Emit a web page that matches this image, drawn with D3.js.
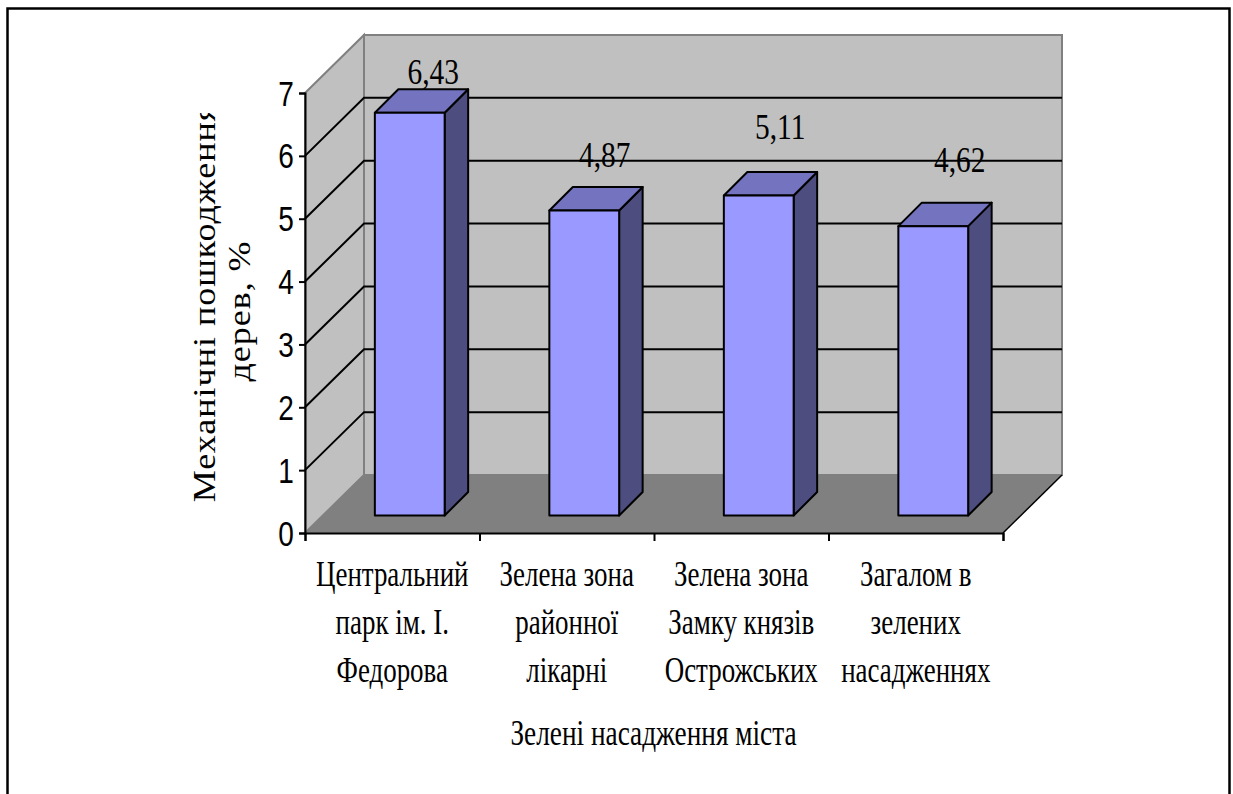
<!DOCTYPE html>
<html>
<head>
<meta charset="utf-8">
<script src="https://cdn.jsdelivr.net/npm/d3@7/dist/d3.min.js"></script>
<style>
html, body { margin: 0; padding: 0; background: #fff; }
svg { display: block; }
</style>
</head>
<body>
<svg id="chart" width="1233" height="794"></svg>
<script>
// Mechanical damage of trees in the town's green areas, %
const categories = [
  ["Центральний", "парк ім. І.", "Федорова"],
  ["Зелена зона", "районної", "лікарні"],
  ["Зелена зона", "Замку князів", "Острожських"],
  ["Загалом в", "зелених", "насадженнях"]
];
const values = [6.43, 4.87, 5.11, 4.62];
const valueLabels = ["6,43", "4,87", "5,11", "4,62"];
const yTicks = [0, 1, 2, 3, 4, 5, 6, 7];
const xTitle = "Зелені насадження міста";
const yTitleLines = ["Механічні пошкодження", "дерев, %"];

// Hand-placed data labels: lift above each column's top and sideways nudge, px
const labelLift = [5, 20, 33, 31];
const labelNudge = [0, -3, -2, 3];

const svg = d3.select("#chart");
const serif = "'Liberation Serif', serif";
const sans = "'Liberation Sans', sans-serif";

// Oblique projection: the floor runs back by (wallDX, -wallDY)
const plotLeft = 305, plotRight = 1003, plotBottom = 533, plotTop = 93;
const wallDX = 59, wallDY = 58;
const barShift = 17.5, barDepth = 23.5;

const x = d3.scaleBand().domain(d3.range(categories.length)).range([plotLeft, plotRight])
  .paddingInner(0.6).paddingOuter(0.3);
const y = d3.scaleLinear().domain([0, 7]).range([plotBottom, plotTop]);
// Columns stand part-way back on the floor, so their scale is a touch shorter
const barY = d3.scaleLinear().domain([0, 7]).range([plotBottom - barShift, plotBottom - barShift - 438.4]);
const edges = d3.scaleLinear().domain([0, categories.length]).range([plotLeft, plotRight]);

const poly = pts => pts.map(p => p.join(",")).join(" ");

// Frame
svg.append("path")
  .attr("d", "M7.5,794V8.5H1229.5V794")
  .attr("fill", "none").attr("stroke", "#000").attr("stroke-width", 2.5);

// Walls and floor
const walls = svg.append("g");
walls.append("polygon")
  .attr("points", poly([[plotLeft + wallDX, y(7) - wallDY], [plotRight + wallDX, y(7) - wallDY], [plotRight + wallDX, plotBottom - wallDY], [plotLeft + wallDX, plotBottom - wallDY]]))
  .attr("fill", "#c0c0c0").attr("stroke", "#808080").attr("stroke-width", 2);
walls.append("polygon")
  .attr("points", poly([[plotLeft, y(7)], [plotLeft + wallDX, y(7) - wallDY], [plotLeft + wallDX, plotBottom - wallDY], [plotLeft, plotBottom]]))
  .attr("fill", "#c0c0c0").attr("stroke", "#808080").attr("stroke-width", 2);
walls.append("polygon")
  .attr("points", poly([[plotLeft, plotBottom], [plotRight, plotBottom], [plotRight + wallDX, plotBottom - wallDY], [plotLeft + wallDX, plotBottom - wallDY]]))
  .attr("fill", "#808080");
walls.append("line")
  .attr("x1", plotRight).attr("y1", plotBottom).attr("x2", plotRight + wallDX).attr("y2", plotBottom - wallDY)
  .attr("stroke", "#000").attr("stroke-width", 1.5);

// Gridlines run along the side wall and across the back wall
const grid = svg.append("g").attr("stroke", "#000").attr("stroke-width", 2).attr("fill", "none");
grid.selectAll("path").data(yTicks.slice(1, -1)).join("path")
  .attr("d", d => `M${plotLeft},${y(d)}L${plotLeft + wallDX},${y(d) - wallDY}H${plotRight + wallDX}`);

// Columns
const bars = svg.append("g").attr("stroke", "#000").attr("stroke-width", 2).attr("stroke-linejoin", "round");
values.forEach((v, i) => {
  const x0 = x(i) + barShift, x1 = x0 + x.bandwidth();
  const y0 = barY(0), y1 = barY(v);
  const d = barDepth;
  bars.append("polygon").attr("fill", "#4d4d80")
    .attr("points", poly([[x1, y1], [x1 + d, y1 - d], [x1 + d, y0 - d], [x1, y0]]));
  bars.append("polygon").attr("fill", "#7373bf")
    .attr("points", poly([[x0, y1], [x0 + d, y1 - d], [x1 + d, y1 - d], [x1, y1]]));
  bars.append("polygon").attr("fill", "#9999ff")
    .attr("points", poly([[x0, y1], [x1, y1], [x1, y0], [x0, y0]]));
});

// Axes
const yAxis = svg.append("g").attr("transform", `translate(${plotLeft},0)`)
  .call(d3.axisLeft(y).tickValues(yTicks).tickSize(6).tickFormat(""));
yAxis.selectAll("path,line").attr("stroke", "#000").attr("stroke-width", 2);
const xAxis = svg.append("g").attr("transform", `translate(0,${plotBottom})`)
  .call(d3.axisBottom(edges).ticks(categories.length).tickSize(8).tickFormat(""));
xAxis.selectAll("path,line").attr("stroke", "#000").attr("stroke-width", 2);

// Text is drawn narrow, so each label is squeezed horizontally around its anchor
function squeezed(px, py, str, font, size, squeeze) {
  svg.append("text")
    .attr("transform", `translate(${px},${py}) scale(${squeeze},1)`)
    .attr("text-anchor", "middle")
    .attr("font-family", font).attr("font-size", size).attr("fill", "#000")
    .text(str);
}

yTicks.forEach(t => squeezed(286, y(t) + 12.5, String(t), sans, 35, 0.8));

values.forEach((v, i) => {
  const cx = x(i) + barShift + x.bandwidth() / 2 + barDepth + labelNudge[i];
  squeezed(cx, barY(v) - barDepth - labelLift[i], valueLabels[i], serif, 35, 0.84);
});

categories.forEach((lines, i) => {
  const cx = x(i) + x.bandwidth() / 2;
  lines.forEach((line, j) => squeezed(cx, 586 + j * 48, line, serif, 35, 0.77));
});

squeezed(653.5, 745, xTitle, serif, 35, 0.78);

// Rotated title: the squeeze acts across the letters here, and it is cut off at the chart's inner edge
svg.append("clipPath").attr("id", "yTitleClip")
  .append("rect").attr("x", 150).attr("y", 113).attr("width", 120).attr("height", 420);
const yTitle = svg.append("g").attr("clip-path", "url(#yTitleClip)");
const yTitleBaseX = [215, 250], yTitleMidY = [303, 311];
yTitleLines.forEach((line, j) => {
  yTitle.append("text")
    .attr("transform", `translate(${yTitleBaseX[j]},${yTitleMidY[j]}) rotate(-90) scale(1,0.85)`)
    .attr("text-anchor", "middle")
    .attr("font-family", serif).attr("font-size", 36).attr("letter-spacing", 1).attr("fill", "#000")
    .text(line);
});
</script>
</body>
</html>
